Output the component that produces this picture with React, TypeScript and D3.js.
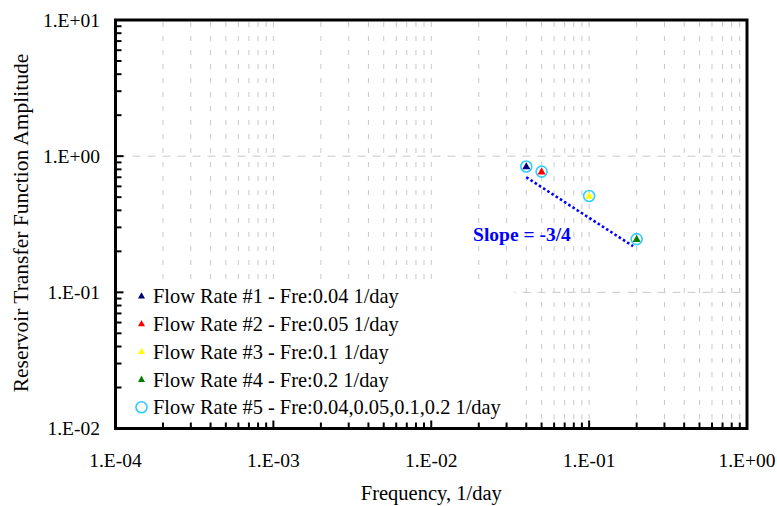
import React from "react";
import * as d3 from "d3";

const seriesNames = [
  "Flow Rate #1 - Fre:0.04 1/day",
  "Flow Rate #2 - Fre:0.05 1/day",
  "Flow Rate #3 - Fre:0.1 1/day",
  "Flow Rate #4 - Fre:0.2 1/day",
  "Flow Rate #5 - Fre:0.04,0.05,0.1,0.2 1/day",
];
const seriesColors = ["#000080", "#ff0000", "#ffff00", "#008000", "#33ccff"];
const frequencies = [0.04, 0.05, 0.1, 0.2];
const amplitudes = [0.84, 0.77, 0.51, 0.246];
const slopeLineX = [0.04, 0.19];
const slopeLineY = [0.7, 0.218];
const slopeLabel = "Slope = -3/4";
const slopeLabelPos = [0.0184, 0.24];
const xTicks = [1e-4, 1e-3, 1e-2, 1e-1, 1];
const xTickLabels = ["1.E-04", "1.E-03", "1.E-02", "1.E-01", "1.E+00"];
const yTicks = [1e-2, 1e-1, 1, 10];
const yTickLabels = ["1.E-02", "1.E-01", "1.E+00", "1.E+01"];
const xTitle = "Frequency, 1/day";
const yTitle = "Reservoir Transfer Function Amplitude";

const W = 777;
const H = 506;
const L = 115.5, R = 747, T = 20, B = 428.5;
const FONT = "'Liberation Serif', 'Times New Roman', serif";

function minorTicks(lo: number, hi: number) {
  const out: number[] = [];
  for (let e = Math.round(Math.log10(lo)); e < Math.round(Math.log10(hi)); e++) {
    for (let m = 2; m <= 9; m++) out.push(m * Math.pow(10, e));
  }
  return out;
}

function tri(cx: number, cy: number, s: number) {
  const h = s * 0.9;
  return `M${cx},${cy - h * 0.6} L${cx + s / 2},${cy + h * 0.4} L${cx - s / 2},${cy + h * 0.4} Z`;
}

export default function App() {
  const x = d3.scaleLog().domain([1e-4, 1]).range([L, R]);
  const y = d3.scaleLog().domain([1e-2, 10]).range([B, T]);
  const xMinor = minorTicks(1e-4, 1);
  const yMinor = minorTicks(1e-2, 10);
  const grid = "#c8c8c8";
  const line = d3.line<number>().x((_, i) => x(slopeLineX[i])).y((d) => y(d));

  const legX = 141.5, legTextX = 153, legY0 = 296, legDy = 27.8;

  return (
    <svg width={W} height={H} style={{ position: "absolute", left: 0, top: 0 }} fontFamily={FONT}>
      <rect width={W} height={H} fill="#fff" />
      {/* vertical grid */}
      {[...xMinor, ...xTicks.slice(1, -1)].map((v, i) => (
        <line key={"vg" + i} x1={x(v)} x2={x(v)} y1={T + 2} y2={B - 2} stroke={grid} strokeWidth={1} strokeDasharray="5,9" />
      ))}
      {/* horizontal major grid */}
      {yTicks.slice(1, -1).map((v, i) => (
        <line key={"hg" + i} x1={L + 2} x2={R - 2} y1={y(v)} y2={y(v)} stroke={grid} strokeWidth={1} strokeDasharray="8,7" />
      ))}
      {/* legend background */}
      <rect x={118} y={281} width={396} height={140} fill="#fff" />
      {/* slope line */}
      <path d={line(slopeLineY) || ""} fill="none" stroke="#0000ff" strokeWidth={2.6} strokeDasharray="2.6,2.4" />
      <text x={x(slopeLabelPos[0])} y={y(slopeLabelPos[1])} fill="#0000ff" fontWeight="bold" fontSize={19.5}>{slopeLabel}</text>
      {/* points */}
      {frequencies.map((f, i) => (
        <g key={"p" + i}>
          <circle cx={x(f)} cy={y(amplitudes[i])} r={5.5} fill="none" stroke={seriesColors[4]} strokeWidth={1.6} />
          <path d={tri(x(f), y(amplitudes[i]), 8)} fill={seriesColors[i]} />
        </g>
      ))}
      {/* frame */}
      <rect x={L} y={T} width={R - L} height={B - T} fill="none" stroke="#000" strokeWidth={3} />
      {/* left ticks */}
      {yMinor.map((v, i) => (
        <line key={"ym" + i} x1={L} x2={L + 6} y1={y(v)} y2={y(v)} stroke="#000" strokeWidth={2} />
      ))}
      {yTicks.map((v, i) => (
        <line key={"yM" + i} x1={L} x2={L + 8} y1={y(v)} y2={y(v)} stroke="#000" strokeWidth={2} />
      ))}
      {/* bottom ticks */}
      {xMinor.map((v, i) => (
        <line key={"xm" + i} x1={x(v)} x2={x(v)} y1={B} y2={B - 6} stroke="#000" strokeWidth={2} />
      ))}
      {xTicks.map((v, i) => (
        <line key={"xM" + i} x1={x(v)} x2={x(v)} y1={B} y2={B - 8} stroke="#000" strokeWidth={2} />
      ))}
      {/* tick labels */}
      {yTicks.map((v, i) => (
        <text key={"yl" + i} x={100} y={y(v)} dy="0.35em" textAnchor="end" fontSize={19.5}>{yTickLabels[i]}</text>
      ))}
      {xTicks.map((v, i) => (
        <text key={"xl" + i} x={x(v)} y={467} textAnchor="middle" fontSize={19.5}>{xTickLabels[i]}</text>
      ))}
      <text x={(L + R) / 2} y={500} textAnchor="middle" fontSize={20.5}>{xTitle}</text>
      <text transform={`translate(27.5,223) rotate(-90)`} textAnchor="middle" fontSize={21.5}>{yTitle}</text>
      {/* legend */}
      {seriesNames.map((n, i) => (
        <g key={"lg" + i}>
          {i < 4 ? (
            <path d={tri(legX, legY0 + i * legDy, 7)} fill={seriesColors[i]} />
          ) : (
            <circle cx={legX} cy={legY0 + i * legDy} r={5.5} fill="none" stroke={seriesColors[4]} strokeWidth={1.6} />
          )}
          <text x={legTextX} y={legY0 + i * legDy} dy="0.35em" fontSize={20.4}>{n}</text>
        </g>
      ))}
    </svg>
  );
}
